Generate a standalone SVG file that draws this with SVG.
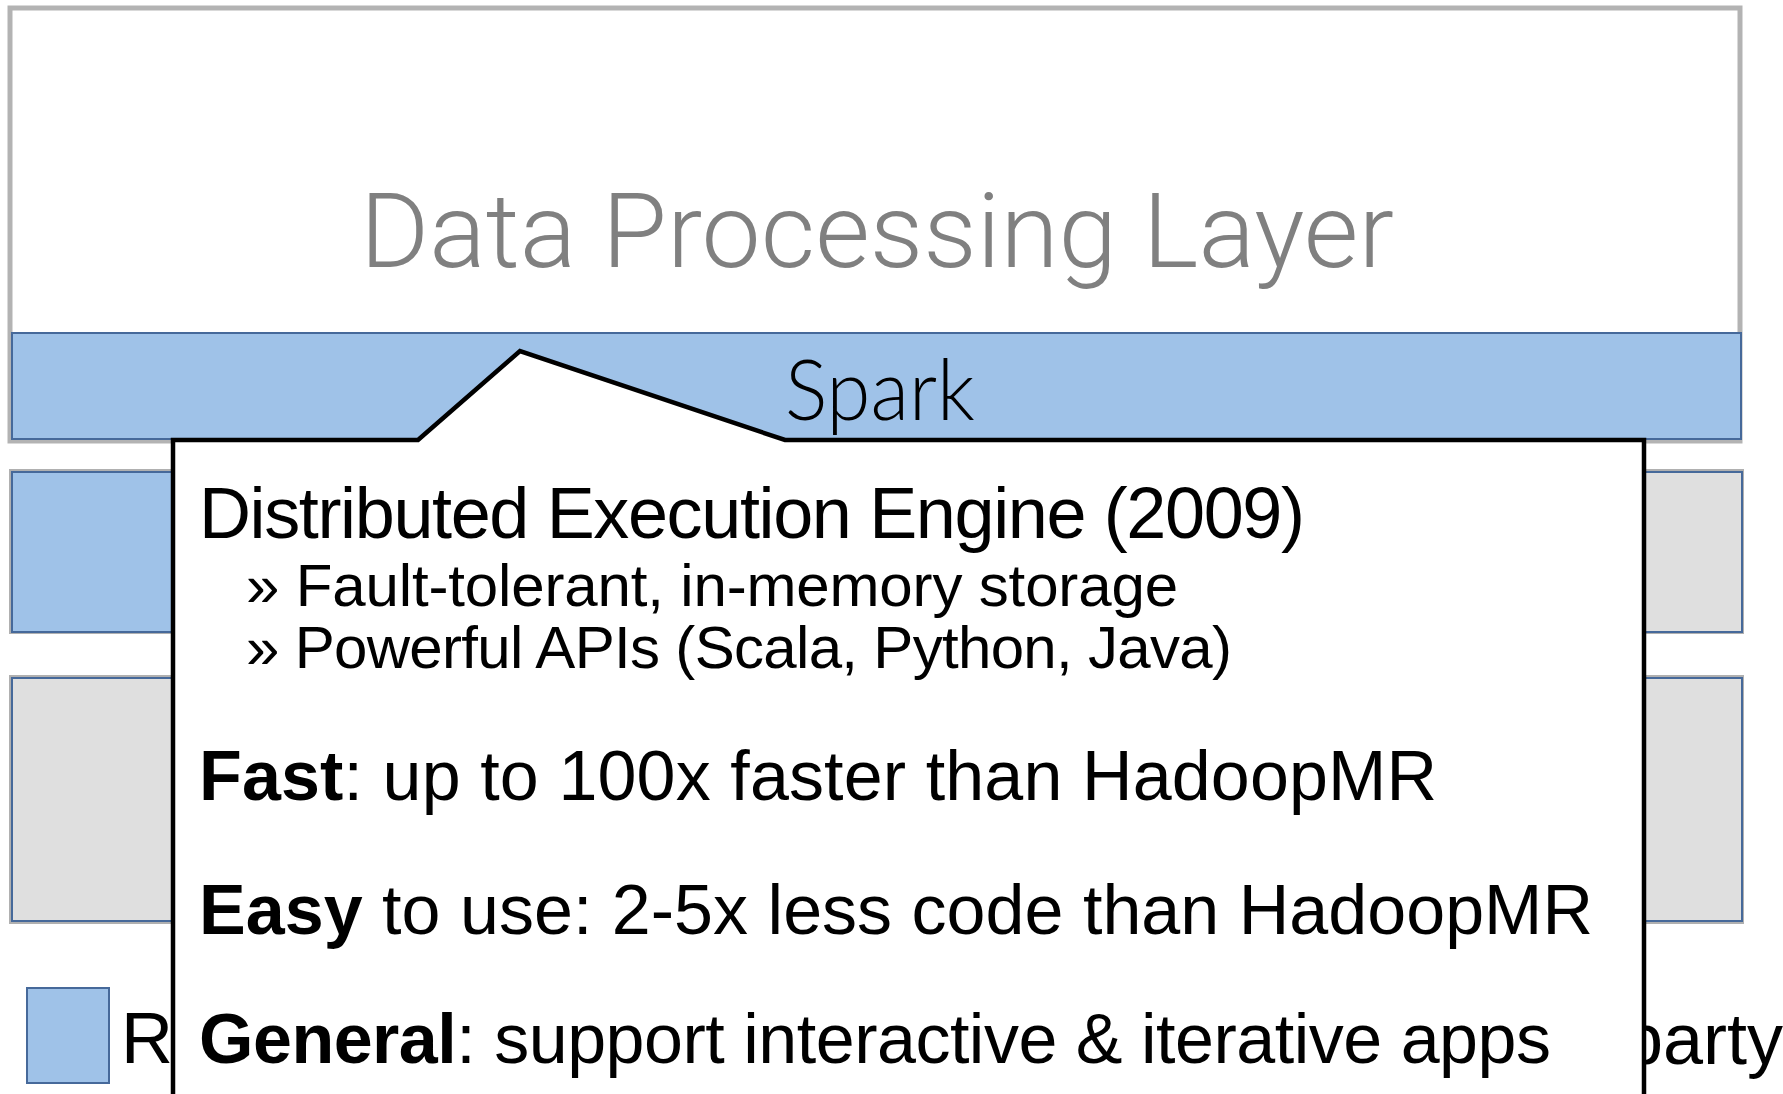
<svg xmlns="http://www.w3.org/2000/svg" width="1783" height="1094" viewBox="0 0 1783 1094">
  <style>
    .frame { fill: #ffffff; stroke: #b3b3b3; stroke-width: 5; }
    .shadow { fill: none; stroke: #b0b0b0; stroke-width: 4; }
    .blue { fill: #9fc2e8; stroke: #46699a; stroke-width: 2; }
    .grey { fill: #dfdfdf; stroke: #46699a; stroke-width: 2; }
    .callout { fill: #ffffff; stroke: #000000; stroke-width: 4.5; stroke-linejoin: miter; }
    .title { font-family: "Roboto", "Liberation Sans", Arial, sans-serif; font-weight: 300; fill: #808080; font-size: 104px; }
    .spark { font-family: "Lato", "Open Sans", "Liberation Sans", sans-serif; font-weight: 300; fill: #000000; font-size: 84px; }
    .txt { font-family: "Liberation Sans", Arial, sans-serif; fill: #000000; }
    .big { font-size: 70px; }
    .head { font-size: 72px; }
    .sub { font-size: 60px; }
    .legend { font-size: 72px; }
    .b { font-weight: bold; }
  </style>

  <g id="data-processing-layer">
    <rect class="frame" x="10" y="8" width="1730" height="433"/>
    <text class="title" x="877" y="267" text-anchor="middle" textLength="1034" lengthAdjust="spacingAndGlyphs">Data Processing Layer</text>
  </g>

  <g id="spark-band">
    <rect class="blue" x="12" y="333" width="1729" height="106"/>
    <text class="spark" x="880" y="420" text-anchor="middle" textLength="190" lengthAdjust="spacingAndGlyphs">Spark</text>
  </g>

  <g id="row1-left">
    <rect class="shadow" x="11" y="471" width="700" height="161"/>
    <rect class="blue" x="12" y="472" width="700" height="160"/>
  </g>
  <g id="row1-right">
    <rect class="shadow" x="1199" y="471" width="543" height="161"/>
    <rect class="grey" x="1200" y="472" width="542" height="160"/>
  </g>
  <g id="row2-left">
    <rect class="shadow" x="11" y="677" width="700" height="245"/>
    <rect class="grey" x="12" y="678" width="700" height="243"/>
  </g>
  <g id="row2-right">
    <rect class="shadow" x="1199" y="677" width="543" height="245"/>
    <rect class="grey" x="1200" y="678" width="542" height="243"/>
  </g>

  <g id="legend">
    <rect class="blue" x="27" y="988" width="82" height="95"/>
    <text class="txt legend" x="121" y="1063">R</text>
    <text class="txt legend" x="1783" y="1064" text-anchor="end">party</text>
  </g>

  <g id="connectors"></g>

  <g id="spark-callout">
    <polygon class="callout" points="173,1098 173,440 418,440 520,351 785,440 1644,440 1644,1098"/>
    <text class="txt head" x="199" y="538" textLength="1106">Distributed Execution Engine (2009)</text>
    <text class="txt sub" x="246" y="606" textLength="932">» Fault-tolerant, in-memory storage</text>
    <text class="txt sub" x="246" y="668" textLength="986">» Powerful APIs (Scala, Python, Java)</text>
    <text class="txt big" x="199" y="800" textLength="1238"><tspan class="b">Fast</tspan>: up to 100x faster than HadoopMR</text>
    <text class="txt big" x="199" y="934" textLength="1394"><tspan class="b">Easy</tspan> to use: 2-5x less code than HadoopMR</text>
    <text class="txt big" x="199" y="1063" textLength="1352"><tspan class="b">General</tspan>: support interactive &amp; iterative apps</text>
  </g>
</svg>
